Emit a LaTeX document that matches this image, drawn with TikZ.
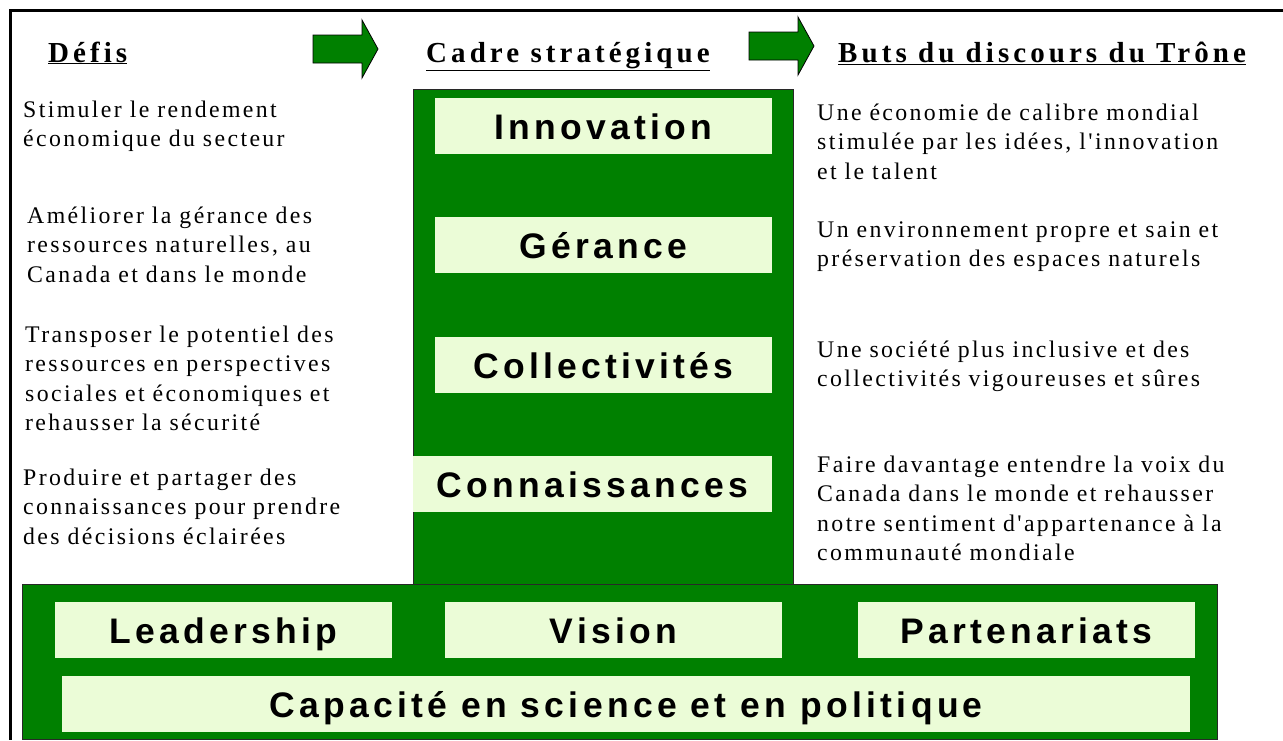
\documentclass[tikz,border=0pt]{standalone}
\usepackage{fontspec}
\setmainfont{Liberation Serif}
\newfontfamily\bodyfont[LetterSpace=10]{Liberation Serif}
\newfontfamily\headfont[LetterSpace=14]{Liberation Serif}
\newfontfamily\boxfont[LetterSpace=12]{Liberation Sans}

\definecolor{leafgreen}{RGB}{0,128,0}
\definecolor{paleleaf}{RGB}{235,252,215}
\definecolor{edgegray}{RGB}{40,40,40}

\tikzset{
    panel/.style={draw=edgegray, fill=leafgreen, line width=1pt, inner sep=0},
    pillar/.style={fill=paleleaf, inner sep=0, minimum height=56pt,
        text height=27pt, text depth=0pt,
        font=\boxfont\bfseries\fontsize{35.5}{40}\selectfont},
    heading/.style={anchor=base west, inner sep=0,
        font=\headfont\bfseries\fontsize{29}{32}\selectfont},
    blurb/.style={anchor=base west, inner sep=0, text width=420pt, align=left,
        font=\bodyfont\fontsize{23.8}{29.5}\selectfont},
    blockarrow/.style={draw=black, fill=leafgreen, line width=0.8pt}
}

\begin{document}
\begin{tikzpicture}[x=1pt, y=-1pt]
    \useasboundingbox (0,0) rectangle (1283,740);

    % Frame
    \draw[line width=3pt] (1283,10) -- (10,10) -- (10,740);

    % Headings
    \node[heading] (defis) at (48,62) {\underline{Défis}};
    \node[heading] (cadre) at (426,62) {\underline{Cadre stratégique}};
    \node[heading] (buts) at (838,62) {\underline{Buts du discours du Trône}};

    % Arrows between the headings
    \foreach \x/\y in {313/49, 749/46}
    {
        \draw[blockarrow] (\x,{\y-14}) -- ({\x+49},{\y-14}) -- ({\x+49},{\y-29})
            -- ({\x+65},\y) -- ({\x+49},{\y+29}) -- ({\x+49},{\y+14})
            -- (\x,{\y+14}) -- cycle;
    }

    % Strategic column and base
    \node[panel, minimum width=380pt, minimum height=495pt] (column) at (603,336.5) {};
    \node[panel, minimum width=1195pt, minimum height=155pt] (base) at (619.5,661.5) {};

    % Column boxes
    \node[pillar, minimum width=337pt] (innovation) at (603.5,125.5) {Innovation};
    \node[pillar, minimum width=337pt] (gerance) at (603.5,245) {Gérance};
    \node[pillar, minimum width=337pt] (collectivites) at (603.5,364.5) {Collectivités};
    \node[pillar, minimum width=359pt] (connaissances) at (592.5,484) {Connaissances};

    % Base boxes
    \node[pillar, minimum width=337pt] (leadership) at (223.5,630) {Leadership};
    \node[pillar, minimum width=337pt] (vision) at (613.5,630) {Vision};
    \node[pillar, minimum width=337pt] (partenariats) at (1026.5,630) {Partenariats};
    \node[pillar, minimum width=1128pt] (capacite) at (626,704) {Capacité en science et en politique};

    % Challenges
    \node[blurb] (defi-1) at (23,117) {Stimuler le rendement\\économique du secteur};
    \node[blurb] (defi-2) at (27,223) {Améliorer la gérance des\\ressources naturelles, au\\Canada et dans le monde};
    \node[blurb] (defi-3) at (25,342) {Transposer le potentiel des\\ressources en perspectives\\sociales et économiques et\\rehausser la sécurité};
    \node[blurb] (defi-4) at (23,485) {Produire et partager des\\connaissances pour prendre\\des décisions éclairées};

    % Goals
    \node[blurb] (but-1) at (817,120) {Une économie de calibre mondial\\stimulée par les idées, l'innovation\\et le talent};
    \node[blurb] (but-2) at (817,237) {Un environnement propre et sain et\\préservation des espaces naturels};
    \node[blurb] (but-3) at (817,357) {Une société plus inclusive et des\\collectivités vigoureuses et sûres};
    \node[blurb] (but-4) at (817,472) {Faire davantage entendre la voix du\\Canada dans le monde et rehausser\\notre sentiment d'appartenance à la\\communauté mondiale};
\end{tikzpicture}
\end{document}
